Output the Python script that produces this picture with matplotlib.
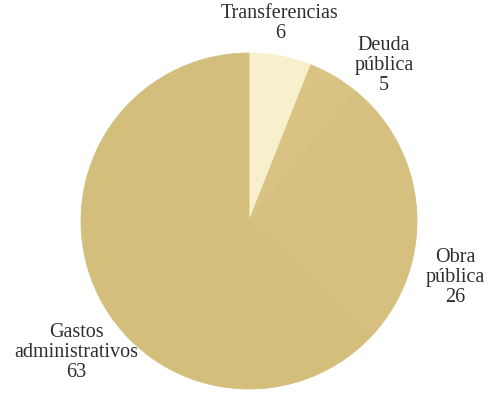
import matplotlib.pyplot as plt

# Data (percent of spending), clockwise from 12 o'clock
categories = ['Transferencias', 'Deuda\npública', 'Obra\npública', 'Gastos\nadministrativos']
values = [6, 5, 26, 63]
colors = ['#f7f0cc', '#d8c383', '#d5c07f', '#d3be7c']

# Label positions in pixels (layout only)
label_pos = [(280, 4), (384, 36), (455, 248), (76, 323)]

W, H = 490, 393
fig = plt.figure(figsize=(W / 100, H / 100), dpi=100)
ax = fig.add_axes([0, 0, 1, 1])

cx, cy, r = 249, H - 221, 168
wedges, _ = ax.pie(values, colors=colors, startangle=90, counterclock=False,
                   center=(cx, cy), radius=r, frame=True)
# hide anti-aliasing seams between wedges
for w, c in zip(wedges, colors):
    w.set_edgecolor(c)
    w.set_linewidth(0.6)

ax.set_xlim(0, W)
ax.set_ylim(0, H)
ax.set_aspect('equal')
ax.axis('off')

for cat, val, (px, py) in zip(categories, values, label_pos):
    ax.text(px, H - py, f'{cat}\n{val}', ha='center', va='top',
            fontsize=14.5, family='Liberation Serif', color='#2e2e2e',
            linespacing=1.08)

fig.savefig('out.png', dpi=100)
